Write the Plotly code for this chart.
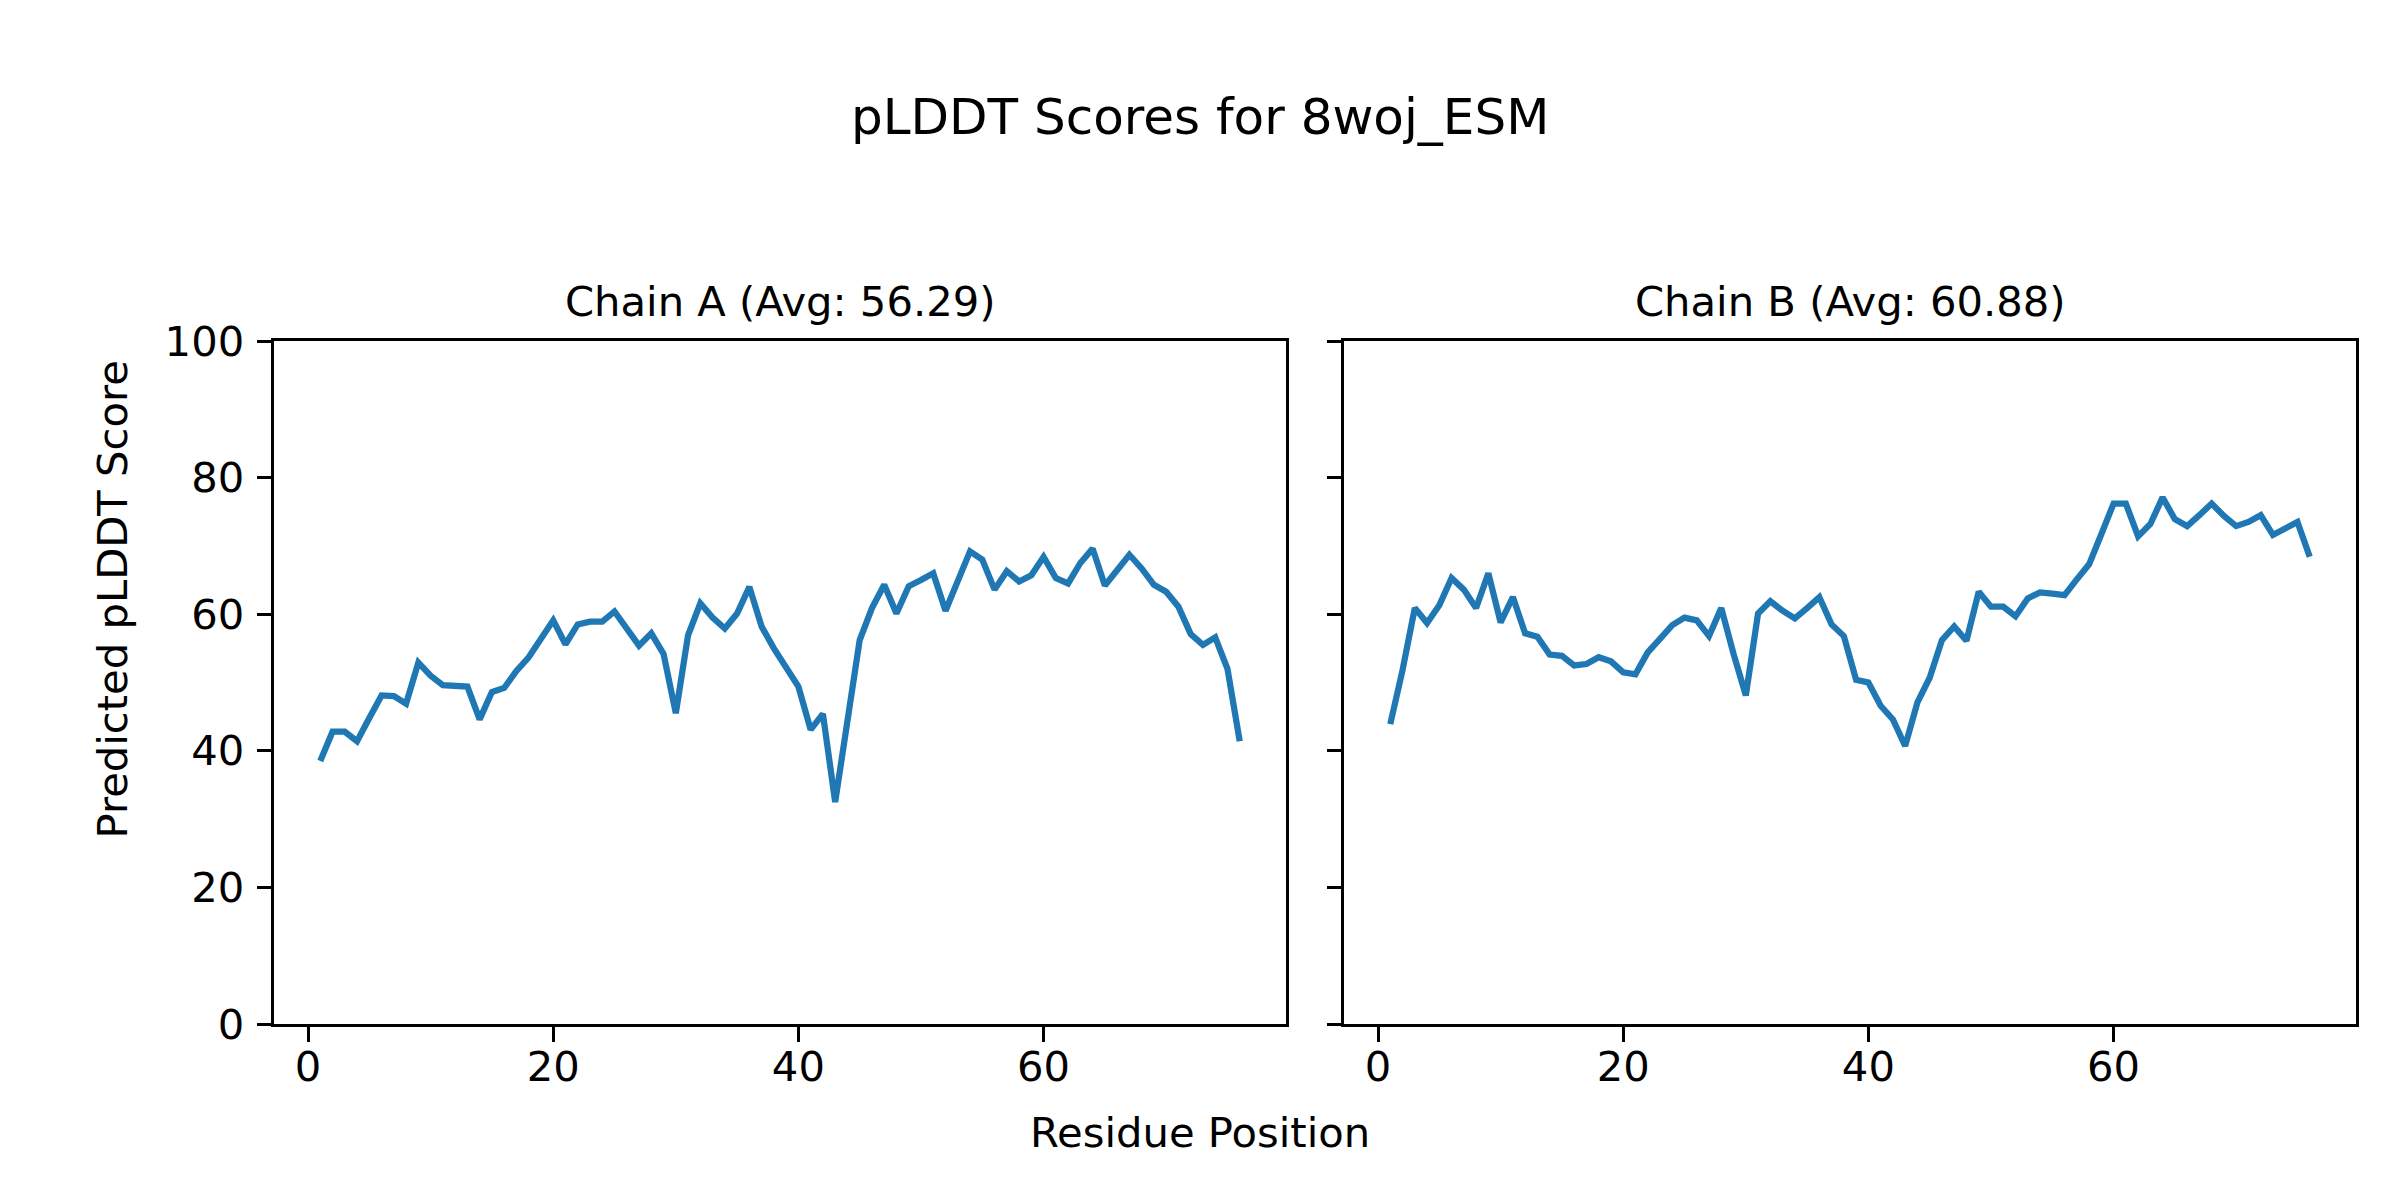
import plotly.graph_objects as go

# ---- data ----
residues_a = list(range(1, 77))
plddt_a = [38.5, 42.8, 42.8, 41.4, 44.8, 48.1, 48.0, 46.9, 52.9, 51.0,
           49.6, 49.6, 49.4, 44.6, 48.6, 49.2, 51.7, 53.7, 56.6, 59.1,
           55.6, 58.5, 58.9, 58.9, 60.4, 57.8, 55.4, 57.2, 54.2, 45.5,
           56.9, 61.6, 59.5, 57.9, 60.1, 64.0, 58.2, 55.0, 52.2, 49.4,
           43.1, 45.4, 32.5, 45.0, 56.2, 60.9, 64.3, 60.1, 64.1, 65.0,
           66.0, 60.5, 64.8, 69.2, 68.0, 63.6, 66.3, 64.8, 65.7, 68.4,
           65.3, 64.5, 67.5, 69.6, 64.2, 66.5, 68.7, 66.7, 64.3, 63.3,
           61.1, 57.1, 55.5, 56.6, 52.0, 41.4]

residues_b = list(range(1, 77))
plddt_b = [43.9, 51.8, 60.9, 58.7, 61.3, 65.3, 63.6, 60.9, 66.0, 58.8,
           62.5, 57.2, 56.7, 54.1, 53.9, 52.5, 52.7, 53.7, 53.1, 51.5,
           51.2, 54.4, 56.4, 58.4, 59.5, 59.1, 56.8, 60.9, 54.2, 48.1,
           60.1, 61.9, 60.5, 59.4, 60.9, 62.5, 58.5, 56.8, 50.4, 50.0,
           46.6, 44.6, 40.7, 47.1, 50.7, 56.2, 58.2, 56.1, 63.3, 61.1,
           61.1, 59.7, 62.3, 63.2, 63.0, 62.8, 65.1, 67.3, 71.7, 76.2,
           76.2, 71.4, 73.2, 77.1, 73.9, 72.9, 74.5, 76.2, 74.4, 72.9,
           73.5, 74.5, 71.6, 72.5, 73.5, 68.4]

avg_a = 56.29
avg_b = 60.88
title_text = "pLDDT Scores for 8woj_ESM"
subtitle_a = f"Chain A (Avg: {avg_a:.2f})"
subtitle_b = f"Chain B (Avg: {avg_b:.2f})"
x_label = "Residue Position"
y_label = "Predicted pLDDT Score"
x_ticks = [0, 20, 40, 60]
y_ticks = [0, 20, 40, 60, 80, 100]

# ---- styling ----
W, H = 2400, 1200
OFF = 8  # page body margin of the html page
LINE_COLOR = "#1f77b4"
FONT = "DejaVu Sans"
TICK_FS = 41.7
LABEL_FS = 41.7
TITLE_FS = 50
AX_LW = 3.33
TICKLEN = 14.6

def px_x(p):
    return (p - OFF) / W

def px_y(p):
    return 1 - (p - OFF) / H

fig = go.Figure()
fig.add_trace(go.Scatter(x=residues_a, y=plddt_a, mode="lines",
                         line=dict(color=LINE_COLOR, width=6.25),
                         xaxis="x", yaxis="y", showlegend=False))
fig.add_trace(go.Scatter(x=residues_b, y=plddt_b, mode="lines",
                         line=dict(color=LINE_COLOR, width=6.25),
                         xaxis="x2", yaxis="y2", showlegend=False))

common_axis = dict(showline=True, mirror=True, linecolor="black", linewidth=AX_LW,
                   ticks="outside", ticklen=TICKLEN, tickwidth=AX_LW, tickcolor="black",
                   showgrid=False, zeroline=False, automargin=False,
                   tickfont=dict(family=FONT, size=TICK_FS, color="black"))

y_dom = [px_y(1024), px_y(341)]
fig.update_layout(
    template="none",
    width=W, height=H, autosize=False,
    margin=dict(l=0, r=0, t=0, b=0, pad=0, autoexpand=False),
    paper_bgcolor="white", plot_bgcolor="white",
    font=dict(family=FONT, color="black"),
    xaxis=dict(domain=[px_x(274.3), px_x(1285.7)], range=[-2.75, 79.75],
               tickvals=x_ticks, anchor="y", ticklabelstandoff=-11, **common_axis),
    yaxis=dict(domain=y_dom, range=[0, 100], tickvals=y_ticks, anchor="x",
               ticklabelstandoff=4, **common_axis),
    xaxis2=dict(domain=[px_x(1344.3), px_x(2355.7)], range=[-2.75, 79.75],
                tickvals=x_ticks, anchor="y2", ticklabelstandoff=-11, **common_axis),
    yaxis2=dict(domain=y_dom, range=[0, 100], tickvals=y_ticks, anchor="x2",
                showticklabels=False, **common_axis),
    annotations=[
        dict(text=title_text, x=px_x(1200), y=px_y(117), xref="paper", yref="paper",
             xanchor="center", yanchor="middle", showarrow=False,
             font=dict(family=FONT, size=TITLE_FS, color="black")),
        dict(text=subtitle_a, x=px_x(780), y=px_y(301), xref="paper", yref="paper",
             xanchor="center", yanchor="middle", showarrow=False,
             font=dict(family=FONT, size=LABEL_FS, color="black")),
        dict(text=subtitle_b, x=px_x(1850), y=px_y(301), xref="paper", yref="paper",
             xanchor="center", yanchor="middle", showarrow=False,
             font=dict(family=FONT, size=LABEL_FS, color="black")),
        dict(text=x_label, x=px_x(1200), y=px_y(1132), xref="paper", yref="paper",
             xanchor="center", yanchor="middle", showarrow=False,
             font=dict(family=FONT, size=LABEL_FS, color="black")),
        dict(text=y_label, x=px_x(111.5), y=px_y(600), xref="paper", yref="paper",
             xanchor="center", yanchor="middle", showarrow=False, textangle=-90,
             font=dict(family=FONT, size=LABEL_FS, color="black")),
    ],
)

fig.write_html("out.html")
